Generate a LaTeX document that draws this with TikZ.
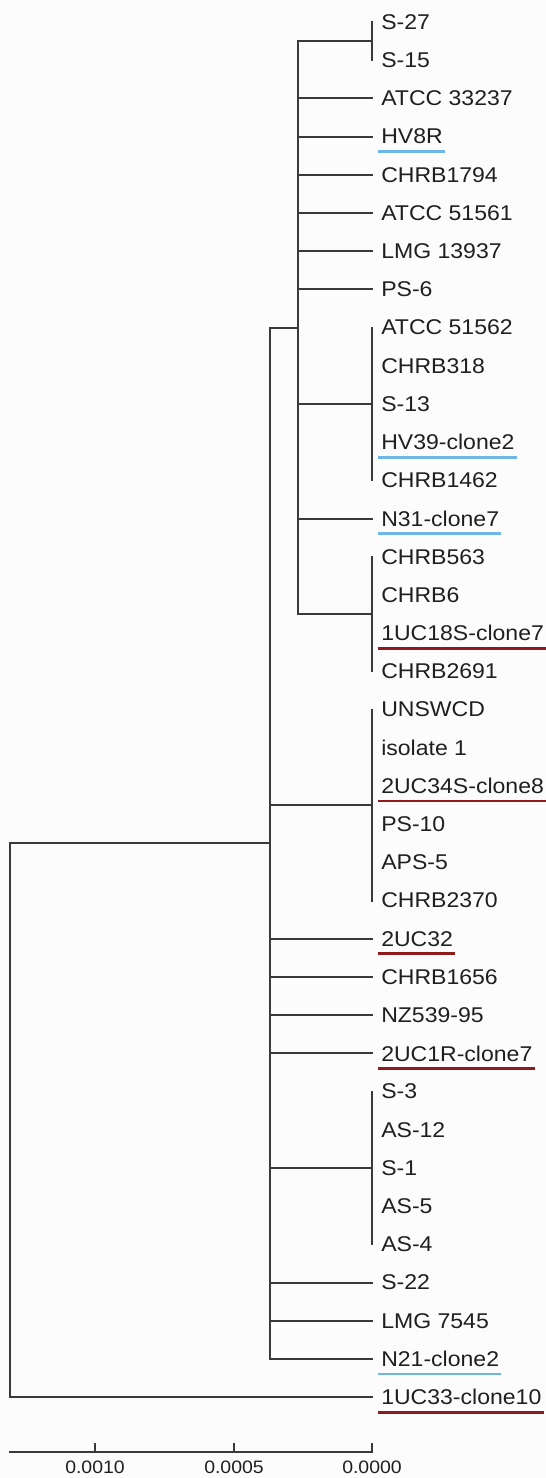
\documentclass[tikz,border=0pt]{standalone}
\usepackage{fontspec}
\setmainfont{Liberation Sans}[FakeStretch=1.08]
\usetikzlibrary{calc}
\definecolor{ln}{HTML}{3A3A3A}
\definecolor{ublue}{HTML}{6FB6E8}
\definecolor{ured}{HTML}{8E1B1B}
\definecolor{bg}{HTML}{FCFCFC}
\begin{document}
\begin{tikzpicture}[x=0.75pt,y=-0.75pt,
  br/.style={draw=ln,line width=1.4pt,line cap=rect},
  lab/.style={anchor=west,inner sep=0pt,font=\fontsize{16}{18}\selectfont,text=black!88},
  scl/.style={anchor=center,inner sep=0pt,font=\fontsize{13.5}{16}\selectfont,text=black!88},
  ulb/.style={draw=ublue,line width=2pt},
  ulr/.style={draw=ured,line width=2pt}]
\fill[bg] (0,0) rectangle (546,1478);
\useasboundingbox (0,0) rectangle (546,1478);
\foreach \i/\t in {0/S-27,1/S-15,2/ATCC 33237,3/HV8R,4/CHRB1794,5/ATCC 51561,6/LMG 13937,7/PS-6,
  8/ATCC 51562,9/CHRB318,10/S-13,11/HV39-clone2,12/CHRB1462,13/N31-clone7,14/CHRB563,15/CHRB6,
  16/1UC18S-clone7,17/CHRB2691,18/UNSWCD,19/isolate 1,20/2UC34S-clone8,21/PS-10,22/APS-5,23/CHRB2370,
  24/2UC32,25/CHRB1656,26/NZ539-95,27/2UC1R-clone7,28/S-3,29/AS-12,30/S-1,31/AS-5,32/AS-4,
  33/S-22,34/LMG 7545,35/N21-clone2,36/1UC33-clone10}{
  \coordinate (t\i) at (372,{22+38.2*\i});
  \node[lab] (L\i) at (381,{22+38.2*\i}) {\t};
}
% underlines
\foreach \i in {3,11,13,35}{
  \draw[ulb] ($(L\i.west)+(-3,15)$) -- ($(L\i.east)+(2,15)$);
}
\foreach \i in {16,20,24,27,36}{
  \draw[ulr] ($(L\i.west)+(-3,15)$) -- ($(L\i.east)+(2,15)$);
}
\coordinate (xu) at (298,0);
\coordinate (xm) at (270,0);
\coordinate (xr) at (10,0);
% clade S-27/S-15
\draw[br] (t0) -- (t1);
\coordinate (A) at ($(t0)!.5!(t1)$);
\draw[br] (A -| xu) -- (A);
\foreach \i in {2,...,7}{ \draw[br] (t\i -| xu) -- (t\i); }
% clade ATCC 51562
\draw[br] (t8) -- (t12);
\draw[br] (t10 -| xu) -- (t10);
\draw[br] (t13 -| xu) -- (t13);
% clade CHRB563
\draw[br] (t14) -- (t17);
\coordinate (C) at ($(t14)!.5!(t17)$);
\draw[br] (C -| xu) -- (C);
% upper clade
\draw[br] (A -| xu) -- (C -| xu);
\coordinate (U) at ($(A -| xu)!.5!(C -| xu)$);
\draw[br] (U -| xm) -- (U);
% clade UNSWCD
\draw[br] (t18) -- (t23);
\coordinate (D) at ($(t18)!.5!(t23)$);
\draw[br] (D -| xm) -- (D);
\foreach \i in {24,...,27}{ \draw[br] (t\i -| xm) -- (t\i); }
% clade S-3
\draw[br] (t28) -- (t32);
\draw[br] (t30 -| xm) -- (t30);
\foreach \i in {33,34,35}{ \draw[br] (t\i -| xm) -- (t\i); }
% main clade
\draw[br] (U -| xm) -- (t35 -| xm);
\coordinate (M) at ($(U -| xm)!.5!(t35 -| xm)$);
\draw[br] (M -| xr) -- (M);
% root
\draw[br] (M -| xr) -- (t36 -| xr) -- (t36);
% scale bar
\coordinate (s0) at (10,1452);
\coordinate (s1) at (95,1452);
\coordinate (s2) at (234,1452);
\coordinate (s3) at (372,1452);
\draw[br] (s0) -- (s3);
\foreach \s in {s1,s2,s3}{ \draw[br] (\s) -- ++(0,-8); }
\node[scl] (n1) at ($(s1)+(0,15)$) {0.0010};
\node[scl] (n2) at ($(s2)+(0,15)$) {0.0005};
\node[scl] (n3) at ($(s3)+(0,15)$) {0.0000};
\end{tikzpicture}
\end{document}
